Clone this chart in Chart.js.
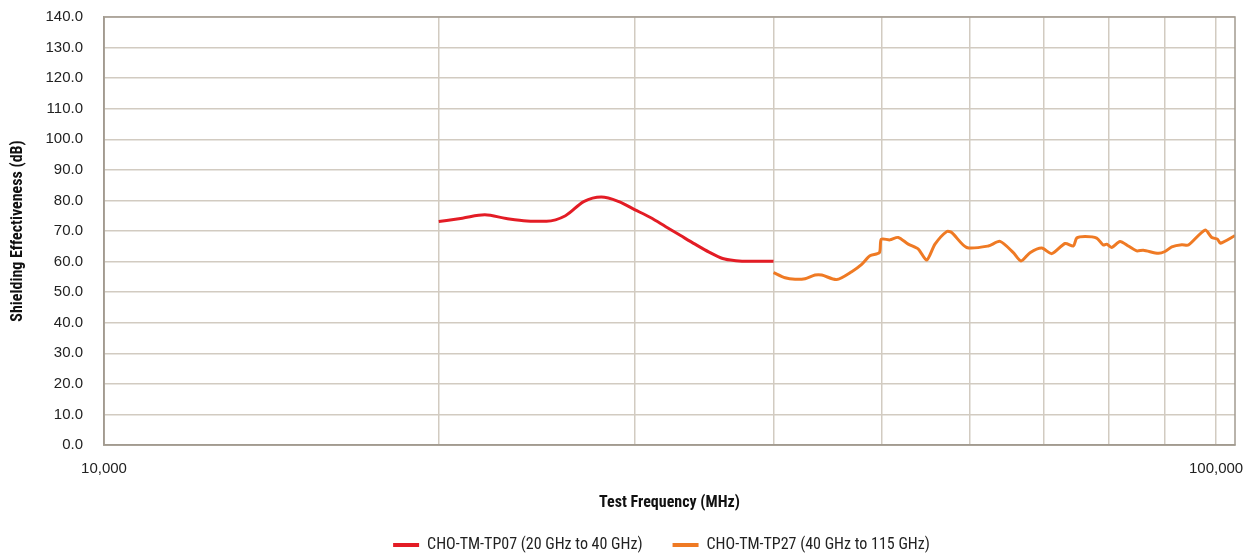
<!DOCTYPE html>
<html>
<head>
<meta charset="utf-8">
<title>Shielding Effectiveness</title>
<script src="https://cdn.jsdelivr.net/npm/chart.js@4.4.1/dist/chart.umd.min.js"></script>
<style>
  html, body { margin: 0; padding: 0; background: #fff; }
  #wrap { width: 1246px; height: 555px; position: relative; }
</style>
</head>
<body>
<div id="wrap"><canvas id="se-chart"></canvas></div>
<script>
// CHO-TM-TP07 (20 GHz to 40 GHz), frequency in MHz
var tp07Freq = [20000, 21000, 22000, 23000, 24000, 25000, 26000, 27000, 28000, 29000, 30000,
  31000, 32000, 33000, 34000, 35000, 36000, 37000, 38000, 39000, 40000]
var tp07SE = [73.1, 74.2, 75.3, 74.1, 73.3, 73.2, 75.0, 79.6, 81.1, 79.7, 77.0,
  74.4, 71.4, 68.5, 65.7, 63.1, 61.0, 60.3, 60.1, 60.1, 60.1]

// CHO-TM-TP27 (40 GHz to 115 GHz)
var tp27Freq = [40000, 40970, 41830, 42700, 43590, 44200, 45590, 47030, 48010, 48840, 49800,
  50000, 50900, 51780, 52870, 53980, 54930, 55880, 57250, 57840, 59670, 62400, 63940,
  65720, 66770, 68030, 69710, 71160, 73150, 74420, 74940, 76240, 78100, 79180, 79730,
  80560, 81960, 83380, 84840, 86010, 88730, 89960, 91240, 93150, 94430, 97750, 99110,
  100300, 100900, 104000]
var tp27SE = [56.4, 54.7, 54.2, 54.4, 55.6, 55.6, 54.1, 56.7, 59.1, 61.9, 62.9,
  67.3, 67.1, 67.9, 65.7, 64.1, 60.5, 65.7, 69.8, 69.5, 64.6, 65.1, 66.6,
  62.9, 60.2, 62.9, 64.4, 62.6, 65.9, 65.1, 67.7, 68.2, 67.7, 65.4, 65.7,
  64.6, 66.6, 65.1, 63.5, 63.7, 62.7, 63.3, 64.8, 65.5, 65.4, 70.3, 67.9,
  67.3, 66.0, 68.5]

var seriesNames = ['CHO-TM-TP07 (20 GHz to 40 GHz)', 'CHO-TM-TP27 (40 GHz to 115 GHz)']
var seriesColors = ['#e31c25', '#ef7a24']

// x grid lines every 10 GHz, only the decades get a label
var xGridTicks = [10000, 20000, 30000, 40000, 50000, 60000, 70000, 80000, 90000, 100000]
var xLabelTicks = [10000, 100000]

var narrowFont = "'Roboto Condensed', 'DejaVu Sans Condensed', sans-serif"
var tickFont = "'Liberation Sans', Arial, sans-serif"
var gridColor = '#d2cbc1'
var borderColor = '#a29b90'

function toPoints(xs, ys) {
  return xs.map(function (x, i) { return { x: x, y: ys[i] } })
}

// frame round the plot area (top and right edges too)
var frame = {
  id: 'frame',
  afterDraw: function (chart) {
    var a = chart.chartArea
    var ctx = chart.ctx
    ctx.save()
    ctx.strokeStyle = borderColor
    ctx.lineWidth = 1.5
    ctx.strokeRect(a.left, a.top, a.right - a.left, a.bottom - a.top)
    ctx.restore()
  }
}

// the legend row sits a bit right of the canvas centre
var legendShift = {
  id: 'legendShift',
  afterLayout: function (chart) {
    if (chart.legend) chart.legend.left += 88
  }
}

var canvas = document.getElementById('se-chart')
var seChart = new Chart(canvas, {
  type: 'line',
  data: {
    datasets: [
      {
        label: seriesNames[0],
        data: toPoints(tp07Freq, tp07SE),
        borderColor: seriesColors[0],
        backgroundColor: seriesColors[0],
        borderWidth: 3,
        pointRadius: 0,
        cubicInterpolationMode: 'monotone'
      },
      {
        label: seriesNames[1],
        data: toPoints(tp27Freq, tp27SE),
        borderColor: seriesColors[1],
        backgroundColor: seriesColors[1],
        borderWidth: 3,
        pointRadius: 0,
        tension: 0.25
      }
    ]
  },
  options: {
    responsive: true,
    maintainAspectRatio: false,
    animation: false,
    layout: { padding: { top: 17, right: 11, left: 0, bottom: -8 } },
    plugins: {
      tooltip: { enabled: false },
      legend: {
        position: 'bottom',
        labels: {
          boxWidth: 26,
          boxHeight: 4,
          padding: 30,
          color: '#222',
          font: { family: narrowFont, size: 16 },
          generateLabels: function (chart) {
            var items = Chart.defaults.plugins.legend.labels.generateLabels(chart)
            items.forEach(function (it) { it.lineWidth = 0 })
            return items
          }
        }
      }
    },
    scales: {
      x: {
        type: 'logarithmic',
        min: 10000,
        max: 104000,
        afterBuildTicks: function (scale) {
          scale.ticks = xGridTicks.map(function (v) { return { value: v } })
        },
        afterFit: function (scale) {
          scale.height = 62
          scale.paddingLeft = 0
          scale.paddingRight = 0
        },
        grid: { color: gridColor, lineWidth: 1.5, drawTicks: false },
        border: { color: borderColor, width: 1.5 },
        ticks: {
          autoSkip: false,
          maxRotation: 0,
          padding: 15,
          color: '#222',
          font: { family: tickFont, size: 15 },
          callback: function (value) {
            return xLabelTicks.indexOf(value) >= 0 ? value.toLocaleString('en-US') : ''
          }
        },
        title: {
          display: true,
          text: 'Test Frequency (MHz)',
          color: '#111',
          font: { family: narrowFont, size: 16, weight: 'bold' },
          padding: { top: 0, bottom: -5.6 }
        }
      },
      y: {
        min: 0,
        max: 140,
        afterFit: function (scale) {
          scale.width = 104
          scale.paddingTop = 0
          scale.paddingBottom = 0
        },
        grid: { color: gridColor, lineWidth: 1.5, drawTicks: false },
        border: { color: borderColor, width: 1.5 },
        ticks: {
          stepSize: 10,
          padding: 21,
          color: '#222',
          font: { family: tickFont, size: 15 },
          callback: function (value) { return value.toFixed(1) }
        },
        title: {
          display: true,
          text: 'Shielding Effectiveness (dB)',
          color: '#111',
          font: { family: narrowFont, size: 16, weight: 'bold' },
          padding: { top: 8, bottom: 0 }
        }
      }
    }
  },
  plugins: [frame, legendShift]
})
</script>
</body>
</html>
